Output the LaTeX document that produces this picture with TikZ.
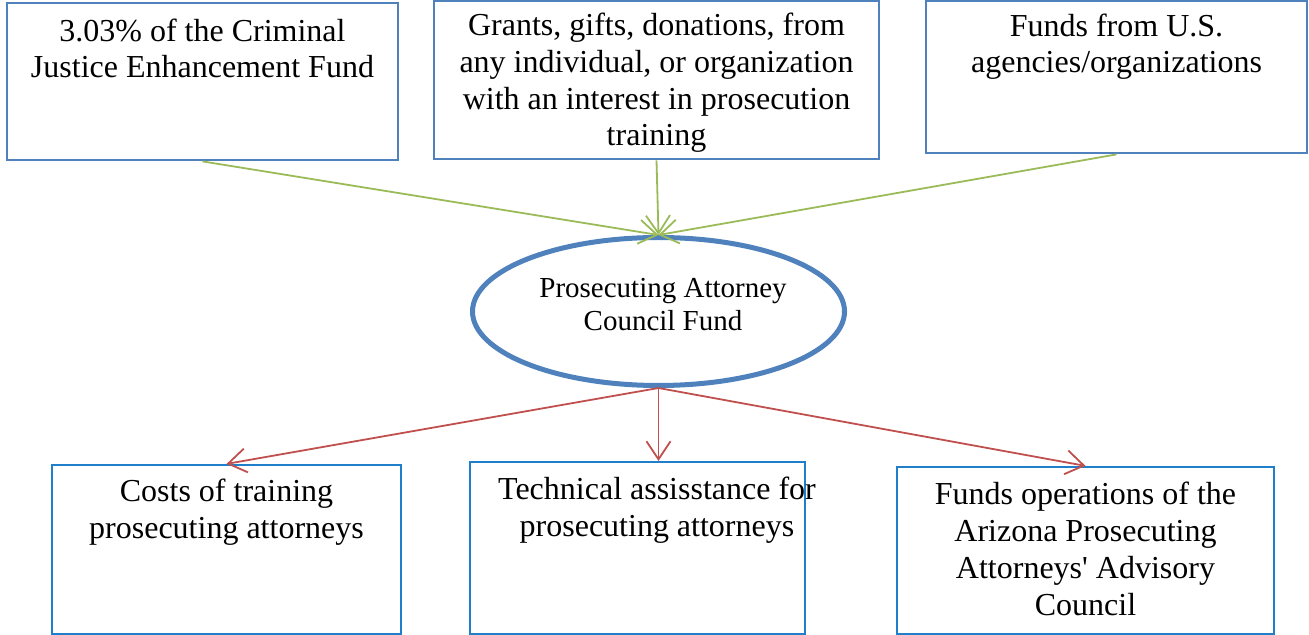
\documentclass[tikz,border=0pt]{standalone}
\usepackage{fontspec}
\setmainfont{Liberation Serif}[Ligatures=TeXOff]
\usetikzlibrary{arrows.meta,shapes.geometric}
\definecolor{topblue}{HTML}{4F81BD}
\definecolor{botblue}{HTML}{1F7FCB}
\definecolor{ellblue}{HTML}{4F81BD}
\definecolor{ingreen}{HTML}{9BBB59}
\definecolor{outred}{HTML}{C0504D}
\tikzset{
  topbox/.style={draw=topblue,line width=1.4pt,rectangle,inner sep=0pt},
  botbox/.style={draw=botblue,line width=1.1pt,rectangle,inner sep=0pt},
  txt/.style={align=center,inner sep=0pt,font=\fontsize{16pt}{18.4pt}\selectfont},
  etxt/.style={align=center,inner sep=0pt,font=\fontsize{14.5pt}{16.6pt}\selectfont},
  inarrow/.style={draw=ingreen,line width=0.9pt,-{Straight Barb[length=9pt,width=12pt]}},
  outarrow/.style={draw=outred,line width=0.9pt,-{Straight Barb[length=9pt,width=12pt]}}
}
\begin{document}
\begin{tikzpicture}[x=0.5pt,y=-0.5pt]
\clip (0,0) rectangle (1309,635);
\useasboundingbox (0,0) rectangle (1309,635);
\node[topbox,minimum width=195.5pt,minimum height=78.5pt] (b1) at (202.5,81.5) {};
\node[topbox,minimum width=222.5pt,minimum height=79pt] (b2) at (656.5,80) {};
\node[topbox,minimum width=190.5pt,minimum height=76pt] (b3) at (1116.5,77) {};
\node[botbox,minimum width=174.5pt,minimum height=84.5pt] (b4) at (226.5,549.5) {};
\node[botbox,minimum width=167.5pt,minimum height=86pt] (b5) at (637.5,548) {};
\node[botbox,minimum width=188.5pt,minimum height=83.5pt] (b6) at (1085.5,550.5) {};
\node[draw=ellblue,line width=2.5pt,ellipse,inner sep=0pt,minimum width=186pt,minimum height=74pt] (e) at (658.5,311.5) {};

\node[txt,anchor=base] (t1) at (202.5,78) {3.03\% of the Criminal\\Justice Enhancement Fund};
\node[txt,anchor=base] (t2) at (656.5,146) {Grants, gifts, donations, from\\any individual, or organization\\with an interest in prosecution\\training};
\node[txt,anchor=base] (t3) at (1116.5,73) {Funds from U.S.\\agencies/organizations};
\node[etxt,anchor=base] (te) at (663,331) {Prosecuting Attorney\\Council Fund};
\node[txt,anchor=base] (t4) at (226.5,538) {Costs of training\\prosecuting attorneys};
\node[txt,anchor=base] (t5) at (657,536) {Technical assisstance for\\prosecuting attorneys};
\node[txt,anchor=base] (t6) at (1085.5,615) {Funds operations of the\\Arizona Prosecuting\\Attorneys' Advisory\\Council};

\draw[inarrow] (b1.south) -- (e.north);
\draw[inarrow] (b2.south) -- (e.north);
\draw[inarrow] (b3.south) -- (e.north);
\draw[outarrow] (e.south) -- (b4.north);
\draw[outarrow] (e.south) -- (e.south |- b5.north);
\draw[outarrow] (e.south) -- (b6.north);
\end{tikzpicture}
\end{document}
